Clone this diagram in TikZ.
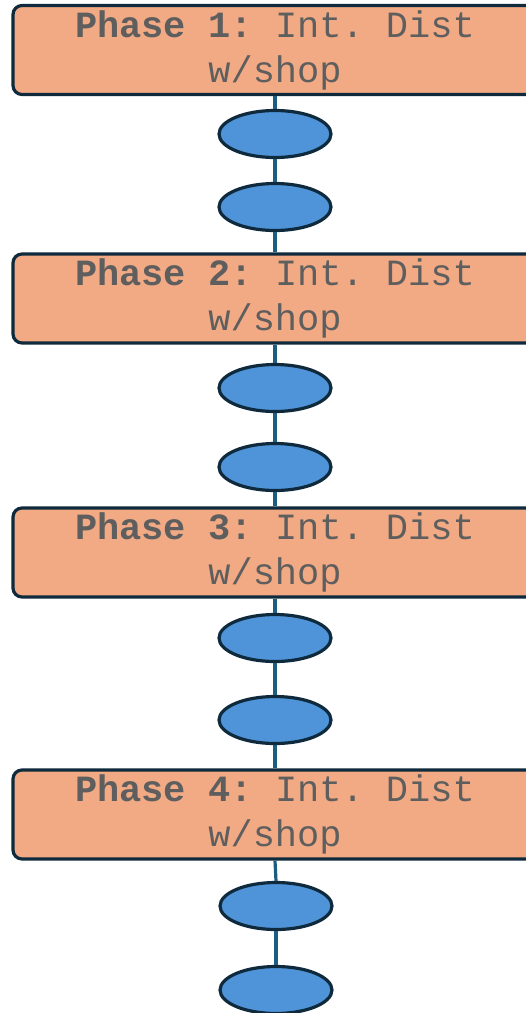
\documentclass[tikz,border=0pt]{standalone}
\usepackage{fontspec}
\setmonofont{Liberation Mono}
\definecolor{boxfill}{HTML}{F2AA84}
\definecolor{navy}{HTML}{0E2A3C}
\definecolor{ellfill}{HTML}{4F94D8}
\definecolor{conn}{HTML}{1C5E80}
\definecolor{txt}{HTML}{5E5E5E}
\tikzset{
  phasebox/.style={draw=navy, line width=3.2pt, fill=boxfill, rounded corners=9pt,
    minimum width=524pt, minimum height=89pt, align=center, inner sep=0pt,
    font=\fontsize{37}{45}\selectfont\ttfamily, text=txt},
  blob/.style={ellipse, draw=navy, line width=3.2pt, fill=ellfill,
    minimum width=112pt, minimum height=47pt, inner sep=0pt},
  link/.style={draw=conn, line width=3.2pt}
}
\usetikzlibrary{shapes.geometric}
\begin{document}
\begin{tikzpicture}[x=1pt,y=-1pt]
\useasboundingbox (0,0) rectangle (526,1013);
\node[phasebox] (p1) at (275,50) {\textbf{Phase 1:} Int. Dist\\w/shop};
\node[blob] (e1) at (275,134) {};
\node[blob] (e2) at (275,207) {};
\node[phasebox] (p2) at (275,298.5) {\textbf{Phase 2:} Int. Dist\\w/shop};
\node[blob] (e3) at (275,388) {};
\node[blob] (e4) at (275,467) {};
\node[phasebox] (p3) at (275,552.5) {\textbf{Phase 3:} Int. Dist\\w/shop};
\node[blob] (e5) at (275,638) {};
\node[blob] (e6) at (275,720) {};
\node[phasebox] (p4) at (275,814.5) {\textbf{Phase 4:} Int. Dist\\w/shop};
\node[blob] (e7) at (276,906) {};
\node[blob] (e8) at (276,990) {};
\draw[link] (p1.south) -- (e1.north);
\draw[link] (e1.south) -- (e2.north);
\draw[link] (e2.south) -- (p2.north);
\draw[link] (p2.south) -- (e3.north);
\draw[link] (e3.south) -- (e4.north);
\draw[link] (e4.south) -- (p3.north);
\draw[link] (p3.south) -- (e5.north);
\draw[link] (e5.south) -- (e6.north);
\draw[link] (e6.south) -- (p4.north);
\draw[link] (p4.south) -- (e7.north);
\draw[link] (e7.south) -- (e8.north);
\end{tikzpicture}
\end{document}
